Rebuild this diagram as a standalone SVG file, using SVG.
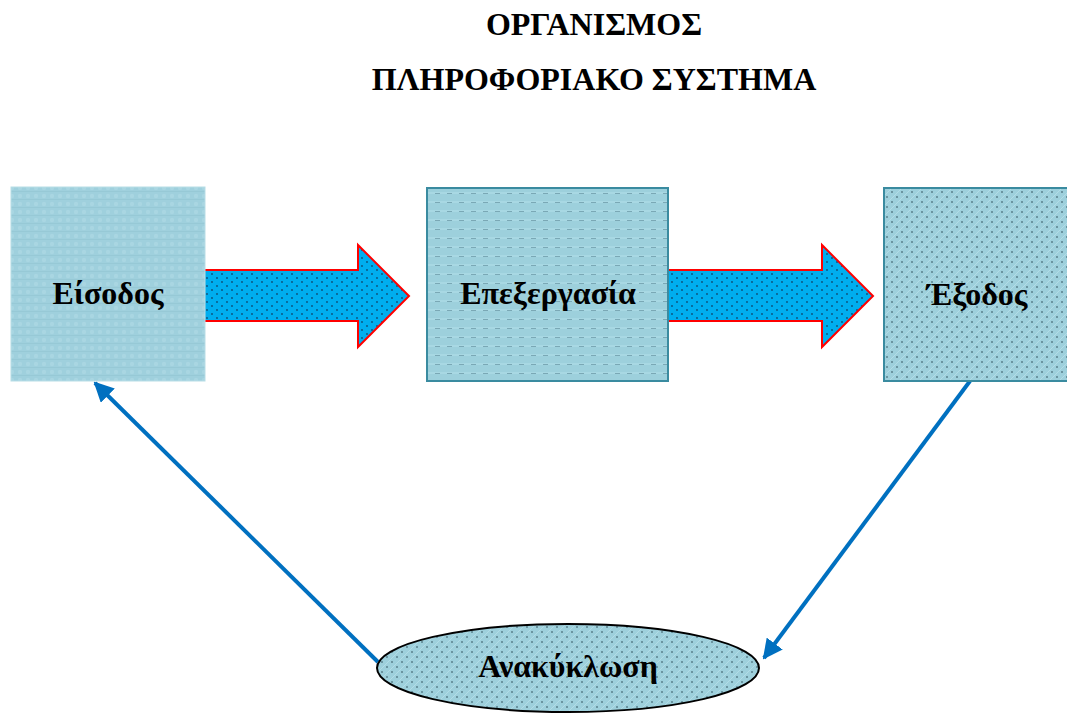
<svg xmlns="http://www.w3.org/2000/svg" width="1067" height="713" viewBox="0 0 1067 713">
  <style>
    .title { font-family: "Liberation Serif", "DejaVu Serif", serif; font-weight: bold; font-size: 32px; fill: #000; text-anchor: middle; }
    .label { font-family: "Liberation Serif", "DejaVu Serif", serif; font-weight: bold; font-size: 32px; fill: #000; text-anchor: middle; }
    .flow { stroke: #ff0000; stroke-width: 2; fill: url(#arrowDots); }
    .link { stroke: #0070c0; stroke-width: 4; fill: none; marker-end: url(#head); }
  </style>
  <defs>
    <!-- soft weave texture -->
    <pattern id="weave" width="8" height="8" patternUnits="userSpaceOnUse">
      <rect width="8" height="8" fill="#9fd0dd"/>
      <circle cx="4" cy="4" r="2.2" fill="#a9d6e2"/>
      <rect x="0" y="7" width="8" height="1" fill="#97c9d6"/>
    </pattern>
    <!-- horizontal dash texture -->
    <pattern id="dashes" width="12" height="9" patternUnits="userSpaceOnUse">
      <rect width="12" height="9" fill="#9dd0dc"/>
      <rect x="0" y="3" width="12" height="2" fill="#a8d8e3"/>
      <rect x="3" y="4" width="5" height="1" fill="#7aa8b5"/>
    </pattern>
    <!-- dotted texture -->
    <pattern id="dots" width="10" height="10" patternUnits="userSpaceOnUse">
      <rect width="10" height="10" fill="#9ed0dc"/>
      <circle cx="2" cy="2" r="0.8" fill="#2a4a55"/>
      <circle cx="7" cy="7" r="0.8" fill="#2a4a55"/>
      <path d="M0 10 L10 0" stroke="#b2dce6" stroke-width="1"/>
    </pattern>
    <pattern id="arrowDots" width="10" height="8" patternUnits="userSpaceOnUse">
      <rect width="10" height="8" fill="#00aeef"/>
      <circle cx="2" cy="2" r="0.9" fill="#0b4f78"/>
      <circle cx="7" cy="6" r="0.9" fill="#0b4f78"/>
    </pattern>
    <marker id="head" viewBox="0 0 10 10" refX="9" refY="5" markerWidth="5" markerHeight="5" orient="auto" markerUnits="strokeWidth">
      <path d="M0 0 L10 5 L0 10 Z" fill="#0070c0"/>
    </marker>
  </defs>

  <rect width="1067" height="713" fill="#ffffff"/>

  <text class="title" x="594" y="35">ΟΡΓΑΝΙΣΜΟΣ</text>
  <text class="title" x="594" y="90">ΠΛΗΡΟΦΟΡΙΑΚΟ ΣΥΣΤΗΜΑ</text>

  <g id="connectors">
    <path class="flow" d="M204 270 H358 V245 L409 296 L358 347 V321 H204 Z"/>
    <path class="flow" d="M668 270 H822 V245 L873 296 L822 347 V321 H668 Z"/>
    <line class="link" x1="378" y1="662" x2="95" y2="383"/>
    <line class="link" x1="970" y1="381" x2="764" y2="658"/>
  </g>

  <g id="input">
    <rect x="11" y="187" width="194" height="194" fill="url(#weave)" stroke="#b7dde6" stroke-width="1"/>
    <text class="label" x="108" y="304">Είσοδος</text>
  </g>

  <g id="processing">
    <rect x="427" y="188" width="241" height="193" fill="url(#dashes)" stroke="#3a8ba0" stroke-width="2"/>
    <text class="label" x="548" y="304">Επεξεργασία</text>
  </g>

  <g id="output">
    <rect x="884" y="188" width="190" height="193" fill="url(#dots)" stroke="#3a8ba0" stroke-width="2"/>
    <text class="label" x="977" y="305">Έξοδος</text>
  </g>

  <g id="recycling">
    <ellipse cx="568" cy="668" rx="191" ry="44" fill="url(#dots)" stroke="#000" stroke-width="2"/>
    <text class="label" x="568" y="677">Ανακύκλωση</text>
  </g>
</svg>
